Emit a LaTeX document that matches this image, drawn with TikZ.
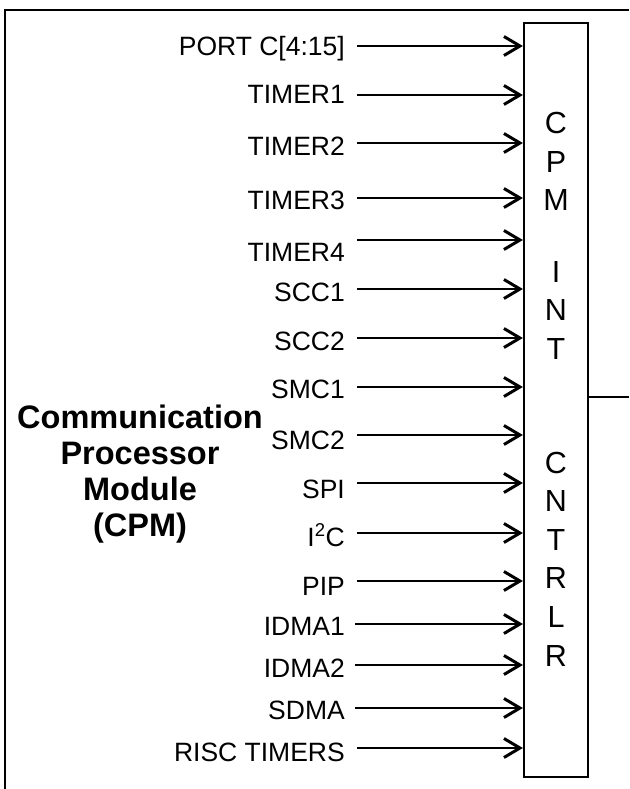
\documentclass[tikz,border=0pt]{standalone}
\usepackage{fontspec}
\setmainfont{Liberation Sans}
\usetikzlibrary{arrows.meta}
\tikzstyle{lS}=[anchor=base east,inner sep=0pt,font=\fontsize{26.5}{30}\selectfont]
\tikzstyle{bS}=[draw,line width=2.2pt,minimum width=64pt,minimum height=754pt,inner sep=0pt]
\tikzstyle{cS}=[inner sep=0pt,align=center,font=\fontsize{30.5}{38.6}\selectfont]
\tikzstyle{tS}=[inner sep=0pt,align=center,font=\fontsize{32.5}{36}\selectfont\bfseries]
\tikzstyle{eArr}=[line width=2.2pt,-{Straight Barb[length=16pt,width=19pt,line width=3pt]}]
\tikzstyle{eLine}=[line width=2.2pt]

\begin{document}
\begin{tikzpicture}[x=1pt,y=-1pt]%[x=1 px, y=1 px downwards]

                \useasboundingbox (0,0) rectangle (629,789);
                \draw[eLine] (5,789) -- (5,10) -- (629,10);

                \draw (556,400) node[bS] (cpm) {};
                \draw (556,161.5) node[cS] (tCPM) {C\\P\\M};
                \draw (556,310.5) node[cS] (tINT) {I\\N\\T};
                \draw (556,559) node[cS] (tCNTRLR) {C\\N\\T\\R\\L\\R};
                \draw (629,397) coordinate (out);
                \path (cpm.east |- out) edge[eLine] (out);

                \draw (140,474) node[tS] (title) {Communication\\Processor\\Module\\(CPM)};

                \draw (345,56) node[lS] (l0) {PORT C[4:15]};
                \draw (345,103.5) node[lS] (l1) {TIMER1};
                \draw (345,155) node[lS] (l2) {TIMER2};
                \draw (345,209) node[lS] (l3) {TIMER3};
                \draw (345,261) node[lS] (l4) {TIMER4};
                \draw (345,301) node[lS] (l5) {SCC1};
                \draw (345,350) node[lS] (l6) {SCC2};
                \draw (345,398) node[lS] (l7) {SMC1};
                \draw (345,449) node[lS] (l8) {SMC2};
                \draw (345,498) node[lS] (l9) {SPI};
                \draw (345,546) node[lS] (l10) {I\textsuperscript{2}C};
                \draw (345,595) node[lS] (l11) {PIP};
                \draw (345,635) node[lS] (l12) {IDMA1};
                \draw (345,677) node[lS] (l13) {IDMA2};
                \draw (345,719) node[lS] (l14) {SDMA};
                \draw (345,761) node[lS] (l15) {RISC TIMERS};

                \draw (357,46) coordinate (s0);
                \draw (357,95) coordinate (s1);
                \draw (357,143) coordinate (s2);
                \draw (357,198) coordinate (s3);
                \draw (357,240) coordinate (s4);
                \draw (357,289) coordinate (s5);
                \draw (357,338) coordinate (s6);
                \draw (357,387) coordinate (s7);
                \draw (357,435) coordinate (s8);
                \draw (357,483) coordinate (s9);
                \draw (357,533) coordinate (s10);
                \draw (357,581) coordinate (s11);
                \draw (355,624) coordinate (s12);
                \draw (355,665) coordinate (s13);
                \draw (355,708) coordinate (s14);
                \draw (357,748) coordinate (s15);
                \path
                    (s0) edge[eArr] (s0 -| cpm.west)
                    (s1) edge[eArr] (s1 -| cpm.west)
                    (s2) edge[eArr] (s2 -| cpm.west)
                    (s3) edge[eArr] (s3 -| cpm.west)
                    (s4) edge[eArr] (s4 -| cpm.west)
                    (s5) edge[eArr] (s5 -| cpm.west)
                    (s6) edge[eArr] (s6 -| cpm.west)
                    (s7) edge[eArr] (s7 -| cpm.west)
                    (s8) edge[eArr] (s8 -| cpm.west)
                    (s9) edge[eArr] (s9 -| cpm.west)
                    (s10) edge[eArr] (s10 -| cpm.west)
                    (s11) edge[eArr] (s11 -| cpm.west)
                    (s12) edge[eArr] (s12 -| cpm.west)
                    (s13) edge[eArr] (s13 -| cpm.west)
                    (s14) edge[eArr] (s14 -| cpm.west)
                    (s15) edge[eArr] (s15 -| cpm.west)
                ;

        \end{tikzpicture}
\end{document}
